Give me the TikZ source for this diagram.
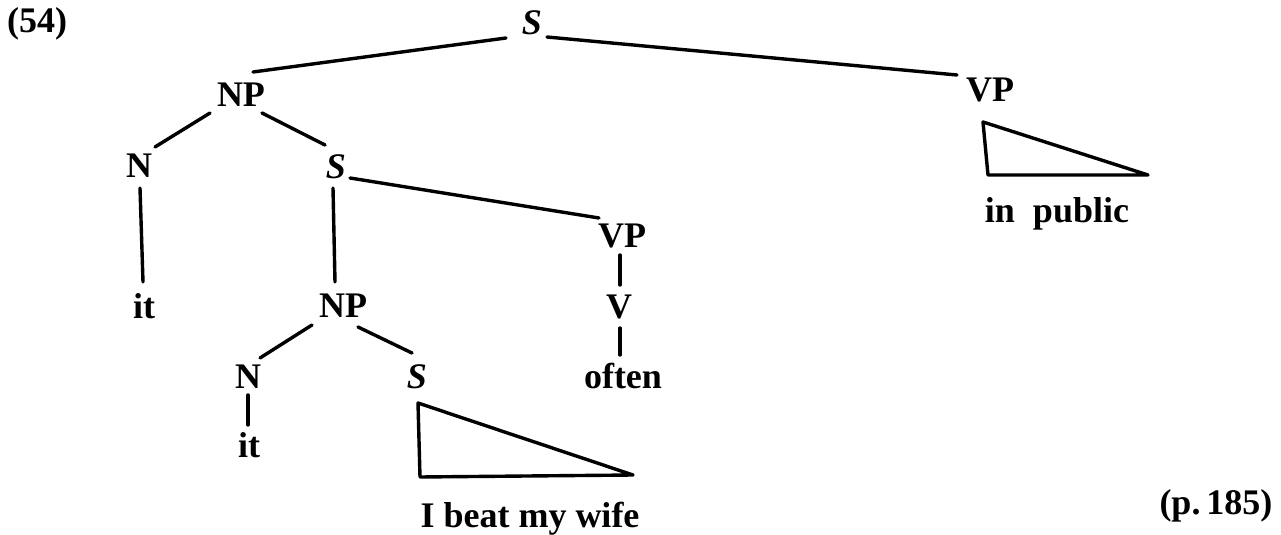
\documentclass[tikz,border=0pt]{standalone}
\usepackage{fontspec}
\setmainfont{Liberation Serif}
\usepackage{tikz}
\usetikzlibrary{positioning}
\newcommand{\lblfont}{\fontsize{18}{20}\selectfont\bfseries}

\begin{document}
\begin{tikzpicture}[
    x=0.5pt, y=-0.5pt,
    lbl/.style={font=\lblfont, inner sep=0pt, anchor=base},
    cat/.style={lbl, font=\lblfont\itshape},
    branch/.style={line width=1.7pt, line cap=round},
    roof/.style={branch, line join=round}
]
    \useasboundingbox (0,0) rectangle (1281,535);

    % labels
    \node[lbl] (ex) at (37,33) {(54)};
    \node[cat] (s1) at (532,35) {S};
    \node[lbl] (np1) at (241,107) {NP};
    \node[lbl] (vp2) at (990,102) {VP};
    \node[lbl] (n1) at (139,177) {N};
    \node[cat] (s2) at (336,178) {S};
    \node[lbl] (vp3) at (622,248) {VP};
    \node[lbl] (it1) at (144,318) {it};
    \node[lbl] (np3) at (343,317) {NP};
    \node[lbl] (v) at (619,318) {V};
    \node[lbl] (often) at (623,388) {often};
    \node[lbl] (n4) at (248,388) {N};
    \node[cat] (s4) at (417,388) {S};
    \node[lbl] (it4) at (249,457) {it};
    \node[lbl] (wife) at (530,527) {I beat my wife};
    \node[lbl] (public) at (1057,222) {in\hspace{0.5em}public};
    \node[lbl] (page) at (1216,514) {(p.\,185)};

    % branches
    \draw[branch] ([shift={(-26,3)}]s1.base) -- ([shift={(12,-35)}]np1.base);
    \draw[branch] ([shift={(15,2)}]s1.base) -- ([shift={(-33,-27)}]vp2.base);
    \draw[branch] ([shift={(-31,6)}]np1.base) -- ([shift={(16,-30)}]n1.base);
    \draw[branch] ([shift={(21,6)}]np1.base) -- ([shift={(-11,-33)}]s2.base);
    \draw[branch] ([shift={(1,11)}]n1.base) -- ([shift={(-1,-36)}]it1.base);
    \draw[branch] ([shift={(-3,10)}]s2.base) -- ([shift={(-8,-35)}]np3.base);
    \draw[branch] ([shift={(14,0)}]s2.base) -- ([shift={(-23,-30)}]vp3.base);
    \draw[branch] ([shift={(-2,7)}]vp3.base) -- ([shift={(1,-33)}]v.base);
    \draw[branch] ([shift={(1,10)}]v.base) -- ([shift={(-3,-33)}]often.base);
    \draw[branch] ([shift={(-31,8)}]np3.base) -- ([shift={(12,-30)}]n4.base);
    \draw[branch] ([shift={(15,10)}]np3.base) -- ([shift={(-5,-35)}]s4.base);
    \draw[branch] ([shift={(0,7)}]n4.base) -- ([shift={(-1,-32)}]it4.base);

    % roofs
    \draw[roof] ([shift={(1,15)}]s4.base) -- ([shift={(-110,-50)}]wife.base)
        -- ([shift={(103,-52)}]wife.base) -- cycle;
    \draw[roof] ([shift={(-7,20)}]vp2.base) -- ([shift={(-69,-47)}]public.base)
        -- ([shift={(91,-47)}]public.base) -- cycle;
\end{tikzpicture}
\end{document}
